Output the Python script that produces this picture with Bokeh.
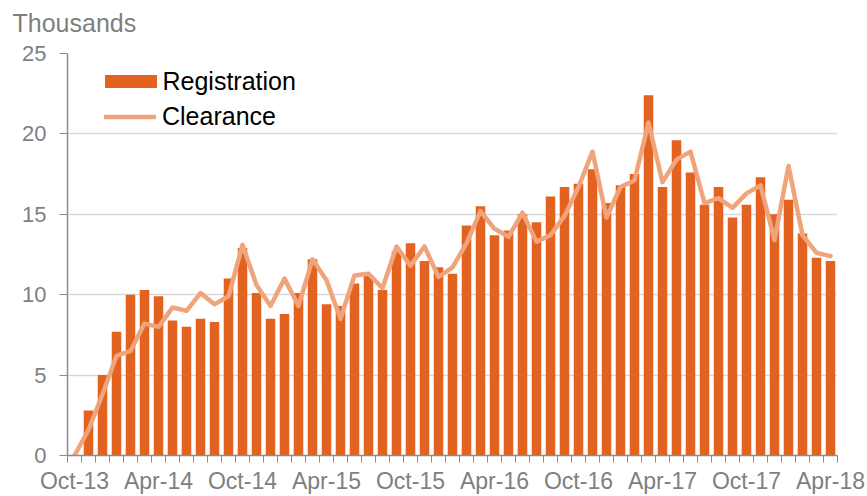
from bokeh.plotting import figure
from bokeh.models import Range1d, FixedTicker, Legend, LegendItem, ColumnDataSource, Title
from bokeh.embed import file_html
from bokeh.resources import INLINE

months = ["Oct-13", "Nov-13", "Dec-13", "Jan-14", "Feb-14", "Mar-14", "Apr-14", "May-14",
          "Jun-14", "Jul-14", "Aug-14", "Sep-14", "Oct-14", "Nov-14", "Dec-14", "Jan-15",
          "Feb-15", "Mar-15", "Apr-15", "May-15", "Jun-15", "Jul-15", "Aug-15", "Sep-15",
          "Oct-15", "Nov-15", "Dec-15", "Jan-16", "Feb-16", "Mar-16", "Apr-16", "May-16",
          "Jun-16", "Jul-16", "Aug-16", "Sep-16", "Oct-16", "Nov-16", "Dec-16", "Jan-17",
          "Feb-17", "Mar-17", "Apr-17", "May-17", "Jun-17", "Jul-17", "Aug-17", "Sep-17",
          "Oct-17", "Nov-17", "Dec-17", "Jan-18", "Feb-18", "Mar-18", "Apr-18"]

registration = [0.0, 2.8, 5.0, 7.7, 10.0, 10.3, 9.9, 8.4, 8.0, 8.5, 8.3, 11.0, 12.9, 10.1,
                8.5, 8.8, 10.1, 12.2, 9.4, 9.3, 10.7, 11.2, 10.3, 12.7, 13.2, 12.1, 11.7,
                11.3, 14.3, 15.5, 13.7, 14.0, 15.0, 14.5, 16.1, 16.7, 16.9, 17.8, 15.7,
                16.8, 17.5, 22.4, 16.7, 19.6, 17.6, 15.6, 16.7, 14.8, 15.6, 17.3, 15.0,
                15.9, 13.8, 12.3, 12.1]

clearance = [0.0, 1.6, 3.8, 6.2, 6.5, 8.2, 8.0, 9.2, 9.0, 10.1, 9.4, 9.9, 13.1, 10.6,
             9.3, 11.0, 9.3, 12.2, 10.9, 8.5, 11.2, 11.3, 10.4, 13.0, 11.8, 13.0, 11.1,
             11.7, 13.2, 15.2, 14.1, 13.6, 15.1, 13.3, 13.7, 14.9, 16.7, 18.9, 14.8,
             16.7, 17.1, 20.7, 17.0, 18.4, 18.9, 15.7, 16.0, 15.4, 16.3, 16.8, 13.4,
             18.0, 13.7, 12.6, 12.4]

tick_labels = ["Oct-13", "Apr-14", "Oct-14", "Apr-15", "Oct-15", "Apr-16",
               "Oct-16", "Apr-17", "Oct-17", "Apr-18"]
y_ticks = [0, 5, 10, 15, 20, 25]

idx = list(range(len(months)))
src = ColumnDataSource(dict(x=idx, month=months, reg=registration, clr=clearance))

label_pos = [months.index(t) for t in tick_labels]
boundaries = [i - 0.5 for i in idx] + [idx[-1] + 0.5]

BAR = "#E3621F"
LINE = "#F0A47C"
GREY = "#7f7f7f"
AXIS = "#8c8c8c"
FONT = "Liberation Sans"

p = figure(width=867, height=496, output_backend="svg", toolbar_location=None, title=None,
           x_range=Range1d(-0.5, len(months) - 0.5), y_range=Range1d(0, 25),
           min_border_left=67, min_border_right=30, min_border_top=53, min_border_bottom=41)

# spacer (closest to the frame) then the unit caption above it
p.add_layout(Title(text=" ", text_font=FONT, text_font_size="10px", standoff=2), "above")
p.add_layout(Title(text="Thousands", text_font=FONT, text_font_size="25px",
                   text_font_style="normal", text_color=GREY, align="left",
                   vertical_align="top", offset=-55, standoff=0), "above")

p.outline_line_color = None
p.background_fill_color = "white"
p.border_fill_color = "white"

bars = p.vbar(x="x", top="reg", width=0.68, source=src, fill_color=BAR, line_color=None)
line = p.line(x="x", y="clr", source=src, line_color=LINE, line_width=4.5,
              line_cap="round", line_join="round")

# x axis
xa = p.xaxis[0]
xa.ticker = FixedTicker(ticks=label_pos, minor_ticks=boundaries)
xa.major_label_overrides = {i: months[i] for i in label_pos}
xa.major_tick_out = 0
xa.major_tick_in = 0
xa.minor_tick_out = 7
xa.minor_tick_in = 0
xa.minor_tick_line_color = AXIS
xa.axis_line_color = AXIS
xa.axis_line_width = 1.5
xa.major_label_text_font = FONT
xa.major_label_text_font_size = "23px"
xa.major_label_text_color = GREY
xa.major_label_standoff = 5

# y axis
ya = p.yaxis[0]
ya.ticker = FixedTicker(ticks=y_ticks)
ya.major_tick_out = 8
ya.major_tick_in = 0
ya.minor_tick_out = 0
ya.minor_tick_in = 0
ya.major_tick_line_color = AXIS
ya.axis_line_color = AXIS
ya.axis_line_width = 1.5
ya.major_label_text_font = FONT
ya.major_label_text_font_size = "22px"
ya.major_label_text_color = GREY
ya.major_label_standoff = 13

p.xgrid.visible = False
p.ygrid.ticker = FixedTicker(ticks=y_ticks)
p.ygrid.grid_line_color = "#d9d9d9"
p.ygrid.grid_line_width = 1.5

common = dict(padding=0, spacing=5, label_height=30,
              label_text_font=FONT, label_text_font_size="25px", label_text_color="black",
              border_line_color=None, background_fill_alpha=0)

legend_reg = Legend(items=[LegendItem(label="Registration", renderers=[bars])],
                    location=(30.5, 359), glyph_width=65, glyph_height=16,
                    label_standoff=0, **common)
legend_clr = Legend(items=[LegendItem(label="Clearance", renderers=[line])],
                    location=(37, 324), glyph_width=52, glyph_height=13,
                    label_standoff=6, **common)
p.add_layout(legend_reg)
p.add_layout(legend_clr)

open("out.html", "w").write(file_html(p, INLINE))
